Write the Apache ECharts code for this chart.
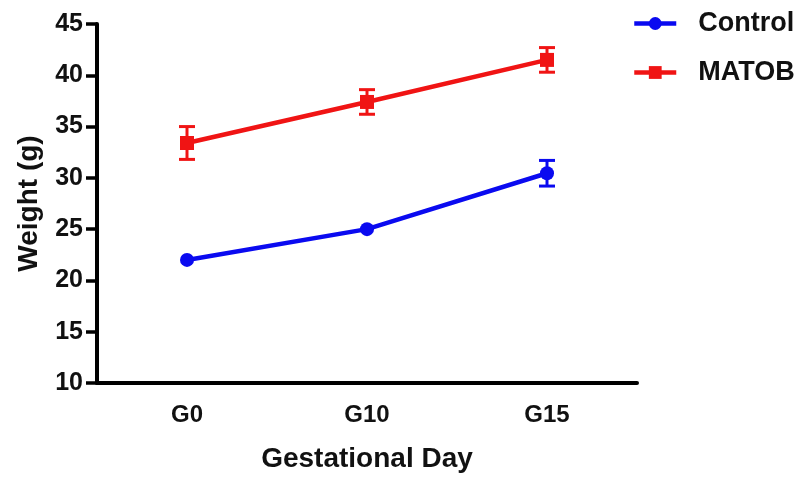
<!DOCTYPE html>
<html><head><meta charset="utf-8">
<script src="https://cdn.jsdelivr.net/npm/echarts@6/dist/echarts.min.js"></script>
<style>html,body{margin:0;padding:0;background:#fff}#c{width:807px;height:479px}</style>
</head><body><div id="c"></div>
<script>
const categories = ['G0', 'G10', 'G15'];
const controlMean = [22.0, 25.0, 30.45];
const controlErr = [0.3, 0.3, 1.25];
const matobMean = [33.4, 37.4, 41.5];
const matobErr = [1.6, 1.2, 1.2];
const yTicks = [10, 45, 5];

const FONT = '"Liberation Sans", Arial, sans-serif';
const BLUE = '#0a0af0', RED = '#f01414';
const SYM = 14;
const chart = echarts.init(document.getElementById('c'));

function errSeries(name, means, errs, color) {
  return {
    type: 'custom', name: name + ' err', z: 1, silent: true,
    data: means.map((m, i) => [i, m - errs[i], m + errs[i]]),
    renderItem: function (params, api) {
      const lo = api.coord([api.value(0), api.value(1)]);
      const hi = api.coord([api.value(0), api.value(2)]);
      if (Math.abs(lo[1] - hi[1]) / 2 <= SYM / 2) return { type: 'group', children: [] };
      const w = 8;
      const st = { stroke: color, lineWidth: 3 };
      return { type: 'group', children: [
        { type: 'line', shape: { x1: lo[0], y1: lo[1], x2: hi[0], y2: hi[1] }, style: st },
        { type: 'line', shape: { x1: lo[0] - w, y1: lo[1], x2: lo[0] + w, y2: lo[1] }, style: st },
        { type: 'line', shape: { x1: hi[0] - w, y1: hi[1], x2: hi[0] + w, y2: hi[1] }, style: st }
      ]};
    }
  };
}

chart.setOption({
  animation: false,
  backgroundColor: '#fff',
  grid: { left: 97, right: 170, top: 24, bottom: 96 },
  legend: {
    orient: 'vertical', left: 627, top: 5, itemGap: 22,
    itemWidth: 42, itemHeight: 16,
    lineStyle: { width: 4.5 },
    data: ['Control', 'MATOB'],
    textStyle: { fontFamily: FONT, fontSize: 27, fontWeight: 'bold', color: '#111', padding: [0, 0, 0, 17] }
  },
  xAxis: {
    type: 'category', data: categories, boundaryGap: true,
    name: 'Gestational Day', nameLocation: 'middle', nameGap: 62,
    nameTextStyle: { fontFamily: FONT, fontSize: 28, fontWeight: 'bold', color: '#111' },
    axisLine: { lineStyle: { color: '#000', width: 4 } },
    axisTick: { alignWithLabel: true, length: 11, lineStyle: { color: '#000', width: 3.5 } },
    axisLabel: { fontFamily: FONT, fontSize: 24, fontWeight: 'bold', color: '#111', margin: 20 }
  },
  yAxis: {
    type: 'value', min: yTicks[0], max: yTicks[1], interval: yTicks[2],
    name: 'Weight (g)', nameLocation: 'middle', nameGap: 54, nameRotate: 90,
    nameTextStyle: { fontFamily: FONT, fontSize: 28, fontWeight: 'bold', color: '#111' },
    axisLine: { show: true, lineStyle: { color: '#000', width: 4 } },
    axisTick: { show: true, length: 11, lineStyle: { color: '#000', width: 3.5 } },
    splitLine: { show: false },
    axisLabel: { fontFamily: FONT, fontSize: 25, fontWeight: 'bold', color: '#111', margin: 14 }
  },
  series: [
    { name: 'Control', type: 'line', data: controlMean, color: BLUE, z: 3,
      symbol: 'circle', symbolSize: SYM, lineStyle: { width: 4.5, color: BLUE },
      itemStyle: { color: BLUE } },
    { name: 'MATOB', type: 'line', data: matobMean, color: RED, z: 3,
      symbol: 'rect', symbolSize: SYM, lineStyle: { width: 4.5, color: RED },
      itemStyle: { color: RED } },
    errSeries('Control', controlMean, controlErr, BLUE),
    errSeries('MATOB', matobMean, matobErr, RED)
  ]
});
</script></body></html>
